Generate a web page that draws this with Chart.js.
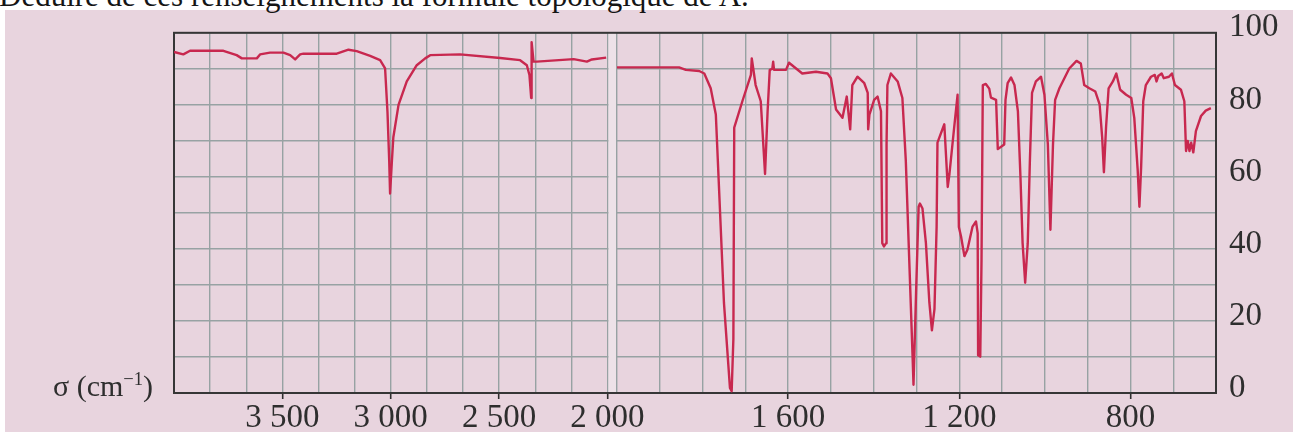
<!DOCTYPE html>
<html>
<head>
<meta charset="utf-8">
<script src="https://cdn.jsdelivr.net/npm/chart.js@4"></script>
<style>
  html, body { margin: 0; padding: 0; background: #fff; }
  body { width: 1293px; height: 432px; position: relative; overflow: hidden; font-family: 'Liberation Serif', serif; }
  #paper { position: absolute; left: 5px; top: 10px; right: 0; bottom: 0; background: #e8d4de; }
  #question { position: absolute; left: -1px; top: -19px; font-size: 31px; line-height: 30px; color: #151515; white-space: nowrap; }
  #sigma { position: absolute; left: 53px; top: 371px; font-size: 30px; line-height: 30px; color: #2e2e2e; white-space: nowrap; }
  #sigma sup { font-size: 0.62em; line-height: 0; vertical-align: 0.6em; }
  #chart { position: absolute; left: 0; top: 0; }
</style>
</head>
<body>
<div id="paper"></div>
<div id="question">Déduire de ces renseignements la formule topologique de A.</div>
<canvas id="chart" width="1293" height="432"></canvas>
<div id="sigma">σ (cm<sup>−1</sup>)</div>

<script>
// wavenumbers (cm-1) and transmittance (%), 4000 -> 2000 part
const wnHigh = [4000, 3957, 3926, 3772, 3711, 3687, 3618, 3603, 3557, 3495, 3464, 3441, 3418, 3403, 3249, 3195, 3157, 3095, 3049, 3026, 3015, 3007, 3003, 2995, 2988, 2964, 2926, 2880, 2841, 2818, 2680, 2495, 2403, 2372, 2360, 2352, 2350, 2341, 2326, 2156, 2095, 2072, 2006];
const tHigh  = [94.7, 94.0, 95.0, 95.0, 93.8, 92.9, 92.9, 94.0, 94.5, 94.5, 93.8, 92.6, 94.0, 94.2, 94.2, 95.3, 94.9, 93.6, 92.4, 90.1, 78.0, 64.5, 55.4, 64.0, 71.0, 80.0, 86.5, 91.0, 92.9, 93.8, 94.0, 93.0, 92.4, 91.0, 88.3, 81.9, 97.4, 92.0, 92.0, 92.7, 92.0, 92.6, 93.1];

// 2000 -> 600 part (expanded scale)
const wnLow = [2000, 1855, 1839, 1808, 1796, 1781, 1769, 1761, 1750, 1736, 1732, 1728, 1726, 1707, 1687, 1685, 1676, 1664, 1654, 1648, 1643, 1637, 1635, 1633, 1605, 1598, 1567, 1535, 1508, 1500, 1488, 1473, 1463, 1455, 1450, 1438, 1422, 1414, 1413, 1410, 1399, 1391, 1383, 1380, 1376, 1371, 1370, 1368, 1360, 1344, 1333, 1325, 1317, 1309, 1307, 1301, 1295, 1292, 1286, 1278, 1270, 1264, 1258, 1253, 1251, 1235, 1227, 1223, 1212, 1204, 1201, 1196, 1188, 1181, 1169, 1161, 1157, 1156, 1151, 1148, 1145, 1138, 1130, 1126, 1114, 1110, 1095, 1092, 1087, 1079, 1071, 1063, 1057, 1052, 1046, 1040, 1035, 1030, 1021, 1009, 1001, 993, 987, 981, 976, 966, 943, 926, 916, 908, 896, 882, 872, 866, 862, 857, 851, 841, 833, 824, 810, 798, 791, 783, 779, 775, 770, 764, 752, 743, 739, 735, 727, 722, 710, 703, 696, 682, 674, 670, 666, 662, 658, 653, 647, 635, 624, 612];
const tLow  = [90.4, 90.4, 89.7, 89.4, 88.7, 84.6, 77.3, 55.4, 25.0, 1.4, 0.5, 15.0, 73.7, 81.0, 88.3, 92.9, 85.5, 81.0, 60.8, 78.2, 89.7, 90.0, 92.0, 89.7, 89.7, 91.7, 88.7, 89.2, 88.7, 87.4, 78.7, 76.4, 82.3, 73.2, 85.5, 87.8, 86.0, 83.3, 73.2, 77.3, 81.4, 82.3, 78.2, 41.6, 40.7, 41.6, 69.0, 85.5, 88.7, 86.5, 81.9, 64.5, 37.1, 9.6, 2.3, 27.9, 51.7, 52.6, 51.2, 41.6, 25.2, 17.4, 23.3, 46.1, 69.5, 74.6, 57.2, 60.8, 73.7, 82.8, 46.1, 43.5, 38.0, 39.8, 46.2, 47.6, 44.4, 10.5, 10.1, 37.1, 85.5, 85.8, 84.5, 82.0, 81.4, 67.7, 69.0, 81.4, 86.0, 87.6, 85.5, 78.2, 59.9, 41.6, 30.6, 41.6, 64.5, 83.3, 86.5, 87.8, 82.8, 69.0, 45.3, 69.0, 81.4, 84.6, 90.1, 92.2, 91.5, 85.5, 84.6, 83.7, 80.1, 70.9, 61.3, 73.7, 84.6, 86.5, 88.7, 84.2, 82.8, 81.9, 76.4, 61.8, 51.7, 62.7, 81.0, 85.5, 87.8, 88.3, 86.5, 88.0, 88.7, 87.4, 87.8, 88.7, 85.5, 84.2, 81.0, 67.2, 70.0, 67.2, 69.5, 66.8, 72.7, 76.9, 78.4, 79.1];

// tick labels
const xTicksHigh = [3500, 3000, 2500, 2000];
const xLabelsHigh = ['3 500', '3 000', '2 500', '2 000'];
const xTicksLow = [1600, 1200, 800];
const xLabelsLow = ['1 600', '1 200', '800'];
const yLabelValues = [0, 20, 40, 60, 80, 100];

// grid lines: 12 divisions on the 4000-2000 part, 100 cm-1 on the other
let gridHigh = [];
for (let i = 0; i <= 12; i++) gridHigh.push(4000 - i * 2000 / 12);
let gridLow = [];
for (let v = 2000; v >= 600; v -= 100) gridLow.push(v);

const gridColor = '#97a2a3';
const inkColor = '#2e2e2e';
const tickFont = { family: 'Liberation Serif', size: 33 };

function labelFor(values, labels, v) {
  const i = values.findIndex(t => Math.abs(t - v) < 0.01);
  return i < 0 ? '' : labels[i];
}

function xScale(min, max, grid, values, labels, weight) {
  return {
    type: 'linear',
    axis: 'x',
    position: 'bottom',
    reverse: true,
    min: min,
    max: max,
    stack: 'wavenumber',
    stackWeight: weight,
    afterBuildTicks: s => { s.ticks = grid.map(v => ({ value: v })); },
    afterFit: s => { s.height = 39; },
    border: { display: false },
    grid: {
      color: gridColor,
      lineWidth: 1.4,
      drawTicks: true,
      tickLength: 6,
      tickWidth: 1.6,
      tickColor: c => labelFor(values, labels, c.tick.value) ? inkColor : 'rgba(0,0,0,0)'
    },
    ticks: {
      autoSkip: false,
      maxRotation: 0,
      padding: 0,
      color: inkColor,
      font: tickFont,
      callback: v => labelFor(values, labels, v)
    }
  };
}

// frame round the plot and the blank strip where the paper scale changes
const framePlugin = {
  id: 'frame',
  beforeDatasetsDraw(chart) {
    const { ctx, chartArea: a, scales } = chart;
    const gapL = scales.xHigh.getPixelForValue(2000);
    const gapR = scales.xLow.left;
    ctx.save();
    ctx.fillStyle = '#ede2e8';
    ctx.fillRect(gapL + 1, a.top, gapR - gapL - 2, a.bottom - a.top);
    ctx.strokeStyle = '#363636';
    ctx.lineWidth = 2;
    ctx.strokeRect(a.left, a.top, a.right - a.left, a.bottom - a.top);
    ctx.restore();
  }
};

const lineColor = '#c8284f';

new Chart(document.getElementById('chart'), {
  type: 'line',
  data: {
    datasets: [
      {
        data: wnHigh.map((w, i) => ({ x: w, y: tHigh[i] })),
        xAxisID: 'xHigh',
        yAxisID: 'y',
        borderColor: lineColor,
        borderWidth: 2.4,
        pointRadius: 0,
        tension: 0,
        borderJoinStyle: 'round'
      },
      {
        data: wnLow.map((w, i) => ({ x: w, y: tLow[i] })),
        xAxisID: 'xLow',
        yAxisID: 'y',
        borderColor: lineColor,
        borderWidth: 2.4,
        pointRadius: 0,
        tension: 0,
        borderJoinStyle: 'round'
      }
    ]
  },
  options: {
    responsive: false,
    animation: false,
    events: [],
    layout: { padding: { left: 174, top: 29, right: 0, bottom: 0 } },
    scales: {
      xHigh: xScale(1956, 4000, gridHigh, xTicksHigh, xLabelsHigh, 443),
      xLow: xScale(600, 2000, gridLow, xTicksLow, xLabelsLow, 599),
      y: {
        type: 'linear',
        position: 'right',
        min: 0,
        max: 100,
        afterFit: s => { s.width = 77; },
        border: { display: false },
        grid: { color: gridColor, lineWidth: 1.4, drawTicks: false },
        ticks: {
          stepSize: 10,
          autoSkip: false,
          padding: 13,
          labelOffset: -5,
          color: inkColor,
          font: tickFont,
          callback: v => yLabelValues.includes(v) ? String(v) : ''
        }
      }
    },
    plugins: {
      legend: { display: false },
      tooltip: { enabled: false }
    }
  },
  plugins: [framePlugin]
});
</script>
</body>
</html>
